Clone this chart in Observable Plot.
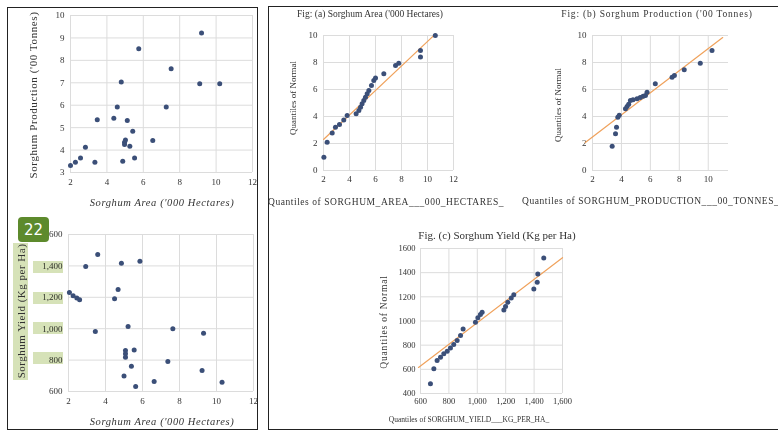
<!DOCTYPE html>
<html><head><meta charset="utf-8">
<script src="https://cdn.jsdelivr.net/npm/d3@7"></script>
<script src="https://cdn.jsdelivr.net/npm/@observablehq/plot@0.6"></script>
<style>
body{margin:0;background:#fff;}
#c{position:relative;width:778px;height:434px;overflow:hidden;font-family:"Liberation Serif",serif;color:#333;background:#fff;}
.t{position:absolute;white-space:nowrap;transform:translate(-50%,-50%);line-height:1;}
.r{transform:translate(-50%,-50%) rotate(-90deg);}
.box{position:absolute;border:1.5px solid #222;box-sizing:border-box;}
.hl{position:absolute;background:#d6e2b8;mix-blend-mode:multiply;}
</style></head><body><div id="c"></div>
<script>
// ---------- DATA ----------
// Scatter 1: Sorghum Area vs Production
const areaP = [9.2, 5.75, 7.53, 4.79, 9.1, 10.2, 4.57, 7.26, 3.47, 4.38, 5.12, 5.42, 4.97, 4.97, 5.02, 5.26, 6.52, 2.82, 2.55, 2.27, 2.0, 3.34, 4.87, 5.52];
const prodP = [9.22, 8.52, 7.63, 7.03, 6.96, 6.96, 5.92, 5.92, 5.35, 5.42, 5.32, 4.84, 4.35, 4.25, 4.45, 4.17, 4.43, 4.13, 3.65, 3.46, 3.31, 3.46, 3.5, 3.65];
// Scatter 2: Sorghum Area vs Yield
const areaY = [3.58, 2.93, 4.86, 5.86, 4.68, 4.49, 2.05, 2.25, 2.45, 2.6, 3.45, 5.22, 7.64, 9.3, 5.08, 5.08, 5.08, 5.55, 5.4, 7.37, 9.22, 5.0, 6.63, 10.3, 5.63];
const yieldY = [1473, 1396, 1417, 1430, 1250, 1190, 1230, 1210, 1195, 1185, 982, 1014, 999, 971, 861, 840, 818, 865, 761, 791, 734, 698, 664, 659, 632];
// QQ (a) Area
const qqAreaX = [2.03, 2.28, 2.67, 2.92, 3.23, 3.56, 3.82, 4.51, 4.72, 4.85, 4.97, 5.1, 5.23, 5.36, 5.49, 5.69, 5.87, 6.0, 6.64, 7.54, 7.79, 9.46, 9.46, 10.6];
const qqAreaY = [0.99, 2.1, 2.77, 3.21, 3.41, 3.75, 4.07, 4.2, 4.44, 4.69, 4.94, 5.19, 5.43, 5.68, 5.93, 6.3, 6.67, 6.86, 7.16, 7.78, 7.95, 8.4, 8.89, 10.0];
const qqAreaLineX = [2, 10.6];
const qqAreaLineY = [2.3, 10.1];
// QQ (b) Production
const qqProdX = [3.36, 3.59, 3.66, 3.75, 3.85, 4.28, 4.39, 4.5, 4.62, 4.8, 5.08, 5.3, 5.5, 5.66, 5.77, 6.34, 7.5, 7.66, 8.34, 9.45, 10.26];
const qqProdY = [1.8, 2.72, 3.21, 3.95, 4.1, 4.57, 4.74, 4.9, 5.19, 5.25, 5.31, 5.4, 5.5, 5.56, 5.8, 6.42, 6.91, 7.04, 7.46, 7.95, 8.89];
const qqProdLineX = [1.5, 11.0];
const qqProdLineY = [2.07, 9.85];
// QQ (c) Yield
const qqYieldX = [670, 694, 717, 741, 764, 788, 811, 834, 858, 882, 900, 987, 1004, 1022, 1034, 1187, 1199, 1215, 1239, 1257, 1398, 1422, 1426, 1468];
const qqYieldY = [480, 604, 673, 700, 728, 750, 777, 805, 838, 879, 934, 989, 1026, 1053, 1072, 1092, 1119, 1155, 1191, 1218, 1265, 1320, 1389, 1521];
const qqYieldLineX = [586, 1600];
const qqYieldLineY = [616, 1524];
// Ticks
const areaTicks = [2, 4, 6, 8, 10, 12];
const prodTicks = [3, 4, 5, 6, 7, 8, 9, 10];
const yieldTicks = [600, 800, 1000, 1200, 1400, 1600];
const qqATicksX = [2, 4, 6, 8, 10, 12];
const qqTicksY = [0, 2, 4, 6, 8, 10];
const qqBTicksX = [2, 4, 6, 8, 10];
const qqCTicksX = [600, 800, 1000, 1200, 1400, 1600];
const qqCTicksY = [400, 600, 800, 1000, 1200, 1400, 1600];

// ---------- DRAW ----------
const C = document.getElementById("c");
const zip = (xs, ys) => xs.map((x, i) => ({x, y: ys[i]}));
const plain = d => String(d);

function chart(o) {
  const {L, T, W, H, x0, x1, y0, y1} = o;
  const marks = [
    Plot.gridX(o.xTicks, {stroke: "#dcdcdc", strokeOpacity: 1}),
    Plot.gridY(o.yTicks, {stroke: "#dcdcdc", strokeOpacity: 1}),
    Plot.axisX(o.xTicks, {tickSize: 0, tickPadding: o.xPad ?? 5, label: null, tickFormat: o.xFmt ?? plain, fill: "#333"}),
    Plot.axisY(o.yTicks, {tickSize: 0, tickPadding: o.yPad ?? 6, label: null, tickFormat: o.yFmt ?? plain, fill: "#333"})
  ];
  if (o.line) marks.push(Plot.line(o.line, {x: "x", y: "y", stroke: "#f0a25c", strokeWidth: 1.2}));
  marks.push(Plot.dot(o.pts, {x: "x", y: "y", r: 2.5, fill: "#3b4f78", stroke: "none"}));
  const svg = Plot.plot({
    width: W, height: H,
    marginLeft: x0 - L, marginRight: L + W - x1, marginTop: y1 - T, marginBottom: T + H - y0,
    x: {domain: o.xDomain}, y: {domain: o.yDomain},
    style: {position: "absolute", left: L + "px", top: T + "px", background: "transparent", fontFamily: "Liberation Serif, serif", fontSize: (o.fs ?? 9) + "px", overflow: "visible"},
    marks
  });
  C.appendChild(svg);
}

function txt(s, cx, cy, size, opts = {}) {
  const d = document.createElement("div");
  d.className = "t" + (opts.rot ? " r" : "");
  d.textContent = s;
  d.style.left = cx + "px"; d.style.top = cy + "px"; d.style.fontSize = size + "px";
  if (opts.italic) d.style.fontStyle = "italic";
  if (opts.left) { d.style.transform = "translate(0,-50%)"; }
  if (opts.color) d.style.color = opts.color;
  if (opts.ls) d.style.letterSpacing = opts.ls + "px";
  C.appendChild(d);
  return d;
}
function div(cls, l, t, w, h, extra = {}) {
  const d = document.createElement("div");
  d.className = cls;
  Object.assign(d.style, {left: l + "px", top: t + "px", width: w + "px", height: h + "px"}, extra);
  C.appendChild(d);
  return d;
}

// Boxes
div("box", 7, 7, 251, 423);
div("box", 268, 6, 512, 424);

// Scatter 1
chart({L: 8, T: 8, W: 248, H: 200, x0: 70, x1: 252, y0: 172, y1: 15,
  xDomain: [2, 12], yDomain: [3, 10], xTicks: areaTicks, yTicks: prodTicks, pts: zip(areaP, prodP), xPad: 6});
txt("Sorghum Production ('00 Tonnes)", 33, 95, 11, {rot: true, ls: 0.6});
txt("Sorghum Area ('000 Hectares)", 162, 203, 10.5, {italic: true, ls: 0.6});

// Scatter 2
chart({L: 8, T: 215, W: 248, H: 210, x0: 68, x1: 253, y0: 391, y1: 234,
  xDomain: [2, 12], yDomain: [600, 1600], xTicks: areaTicks, yTicks: yieldTicks, pts: zip(areaY, yieldY),
  yFmt: d3.format(","), xPad: 6});
txt("Sorghum Area ('000 Hectares)", 162, 422, 10.5, {italic: true, ls: 0.6});
// highlights
div("hl", 13, 243, 15, 137);
txt("Sorghum Yield (Kg per Ha)", 21, 311, 11, {rot: true, ls: 0.5});
for (const y of [267, 298, 328, 358]) div("hl", 33, y - 6, 30, 12);
const badge = div("", 18, 217, 31, 25, {position: "absolute", background: "#5d8a2c", borderRadius: "4px", color: "#fff", fontFamily: "DejaVu Sans, sans-serif", fontSize: "15px", display: "flex", alignItems: "center", justifyContent: "center"});
badge.textContent = "22";

// QQ (a)
chart({L: 280, T: 25, W: 180, H: 165, x0: 323, x1: 453, y0: 170, y1: 35,
  xDomain: [2, 12], yDomain: [0, 10], xTicks: qqATicksX, yTicks: qqTicksY, pts: zip(qqAreaX, qqAreaY),
  line: zip(qqAreaLineX, qqAreaLineY), xPad: 5});
txt("Fig: (a) Sorghum Area ('000 Hectares)", 370, 15, 9.5);
txt("Quantiles of Normal", 293, 98, 9, {rot: true});
txt("Quantiles of SORGHUM_AREA___000_HECTARES_", 268, 203, 9.5, {left: true, ls: 0.55});

// QQ (b)
chart({L: 560, T: 25, W: 178, H: 165, x0: 592, x1: 728, y0: 170, y1: 35,
  xDomain: [2, 11.4], yDomain: [0, 10], xTicks: qqBTicksX, yTicks: qqTicksY, pts: zip(qqProdX, qqProdY),
  line: zip(qqProdLineX, qqProdLineY), xPad: 5});
txt("Fig: (b) Sorghum Production ('00 Tonnes)", 657, 15, 9.5, {ls: 0.8});
txt("Quantiles of Normal", 558, 105, 9, {rot: true});
txt("Quantiles of SORGHUM_PRODUCTION___00_TONNES_", 522, 202, 9.5, {left: true, ls: 0.55});

// QQ (c)
chart({L: 390, T: 240, W: 180, H: 170, x0: 420, x1: 562, y0: 393, y1: 248,
  xDomain: [600, 1600], yDomain: [400, 1600], xTicks: qqCTicksX, yTicks: qqCTicksY, pts: zip(qqYieldX, qqYieldY),
  line: zip(qqYieldLineX, qqYieldLineY), xPad: 4, yPad: 5, fs: 8.5, xFmt: d3.format(",")});
txt("Fig. (c) Sorghum Yield (Kg per Ha)", 497, 235, 11);
txt("Quantiles of Normal", 385, 322, 9.5, {rot: true, ls: 0.8});
txt("Quantiles of SORGHUM_YIELD___KG_PER_HA_", 469, 420, 7.5);
</script></body></html>
